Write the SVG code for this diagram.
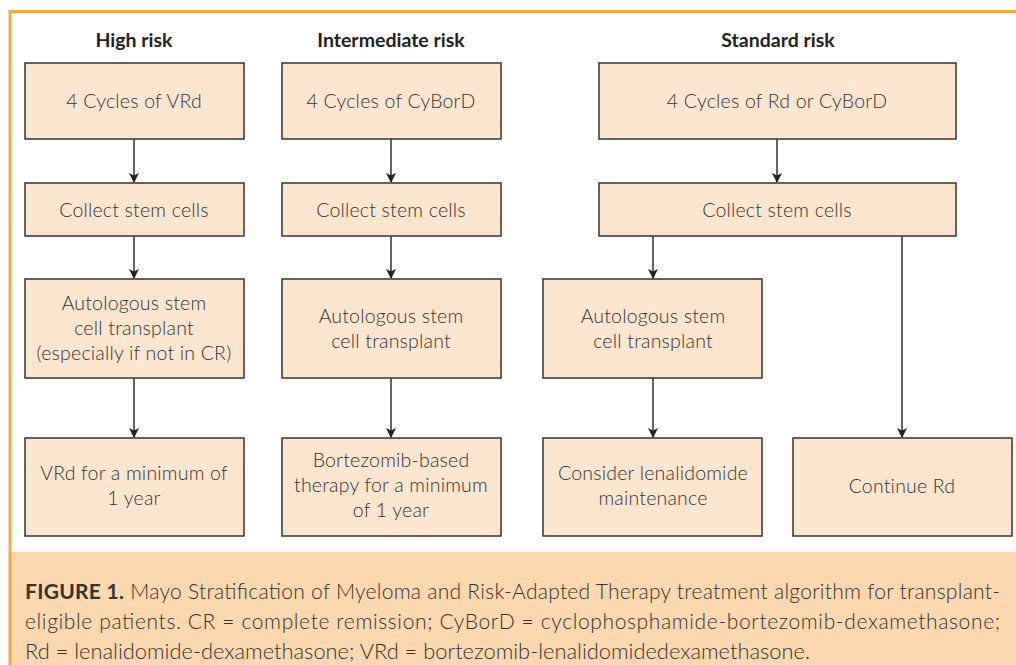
<svg xmlns="http://www.w3.org/2000/svg" width="1016" height="665" viewBox="0 0 1016 665">
<style>
.box{fill:#fde6cf;stroke:#333;stroke-width:1.5}
.t{font-family:Lato,"Open Sans","Liberation Sans",sans-serif;font-weight:300;font-size:19.5px;letter-spacing:0.2px;fill:#333;text-anchor:middle}
.h{font-family:Lato,"Liberation Sans",sans-serif;font-weight:700;font-size:19.5px;fill:#222;text-anchor:middle}
.c{font-family:Lato,"Liberation Sans",sans-serif;font-weight:300;font-size:21px;fill:#333}
.ln{stroke:#222;stroke-width:1.4;fill:none;marker-end:url(#ah)}
</style>
<defs>
<marker id="ah" markerWidth="10" markerHeight="12" refX="9" refY="5" orient="auto" markerUnits="userSpaceOnUse" viewBox="0 0 10 10">
<path d="M0,0 L10,5 L0,10 L2.5,5 Z" fill="#222"/>
</marker>
</defs>
<rect x="0" y="0" width="1016" height="665" fill="#fff"/>
<rect x="11" y="552" width="1005" height="113" fill="#fcd8ae"/>
<line x1="10" y1="11.5" x2="1016" y2="11.5" stroke="#f9a541" stroke-width="3"/>
<line x1="10" y1="10" x2="10" y2="665" stroke="#f9a541" stroke-width="3"/>

<g id="titles">
<text class="h" x="134" y="47">High risk</text>
<text class="h" x="391" y="47">Intermediate risk</text>
<text class="h" x="778" y="47">Standard risk</text>
</g>

<g id="connectors">
<line class="ln" x1="134" y1="139" x2="134" y2="182"/>
<line class="ln" x1="134" y1="236" x2="134" y2="278"/>
<line class="ln" x1="134" y1="378" x2="134" y2="437"/>
<line class="ln" x1="391" y1="139" x2="391" y2="182"/>
<line class="ln" x1="391" y1="236" x2="391" y2="278"/>
<line class="ln" x1="391" y1="378" x2="391" y2="437"/>
<line class="ln" x1="777" y1="139" x2="777" y2="182"/>
<line class="ln" x1="653" y1="236" x2="653" y2="278"/>
<line class="ln" x1="653" y1="378" x2="653" y2="437"/>
<line class="ln" x1="902" y1="236" x2="902" y2="437"/>
</g>

<g id="hr1"><rect class="box" x="25" y="63" width="219" height="76"/><text class="t" x="134" y="108">4 Cycles of VRd</text></g>
<g id="hr2"><rect class="box" x="25" y="183" width="219" height="53"/><text class="t" x="134" y="217">Collect stem cells</text></g>
<g id="hr3"><rect class="box" x="25" y="279" width="219" height="99"/><text class="t" x="134" y="310">Autologous stem</text><text class="t" x="134" y="335">cell transplant</text><text class="t" x="134" y="360">(especially if not in CR)</text></g>
<g id="hr4"><rect class="box" x="25" y="438" width="219" height="98"/><text class="t" x="134" y="480">VRd for a minimum of</text><text class="t" x="134" y="505">1 year</text></g>

<g id="ir1"><rect class="box" x="282" y="63" width="219" height="76"/><text class="t" x="391" y="108">4 Cycles of CyBorD</text></g>
<g id="ir2"><rect class="box" x="282" y="183" width="219" height="53"/><text class="t" x="391" y="217">Collect stem cells</text></g>
<g id="ir3"><rect class="box" x="282" y="279" width="219" height="99"/><text class="t" x="391" y="323">Autologous stem</text><text class="t" x="391" y="348">cell transplant</text></g>
<g id="ir4"><rect class="box" x="282" y="438" width="219" height="98"/><text class="t" x="391" y="467">Bortezomib-based</text><text class="t" x="391" y="492">therapy for a minimum</text><text class="t" x="391" y="517">of 1 year</text></g>

<g id="sr1"><rect class="box" x="599" y="63" width="357" height="76"/><text class="t" x="777" y="108">4 Cycles of Rd or CyBorD</text></g>
<g id="sr2"><rect class="box" x="599" y="183" width="357" height="53"/><text class="t" x="777" y="217">Collect stem cells</text></g>
<g id="sr3"><rect class="box" x="543" y="279" width="219" height="99"/><text class="t" x="653" y="323">Autologous stem</text><text class="t" x="653" y="348">cell transplant</text></g>
<g id="sr4"><rect class="box" x="543" y="438" width="219" height="98"/><text class="t" x="653" y="480">Consider lenalidomide</text><text class="t" x="653" y="505">maintenance</text></g>
<g id="sr5"><rect class="box" x="793" y="438" width="219" height="98"/><text class="t" x="902" y="493">Continue Rd</text></g>

<g id="caption">
<text class="c" x="25" y="599" textLength="975" lengthAdjust="spacing"><tspan font-weight="700">FIGURE 1.</tspan> Mayo Stratification of Myeloma and Risk-Adapted Therapy treatment algorithm for transplant-</text>
<text class="c" x="25" y="629" textLength="975" lengthAdjust="spacing">eligible patients. CR = complete remission; CyBorD = cyclophosphamide-bortezomib-dexamethasone;</text>
<text class="c" x="25" y="659" textLength="785" lengthAdjust="spacingAndGlyphs">Rd = lenalidomide-dexamethasone; VRd = bortezomib-lenalidomidedexamethasone.</text>
</g>
</svg>
